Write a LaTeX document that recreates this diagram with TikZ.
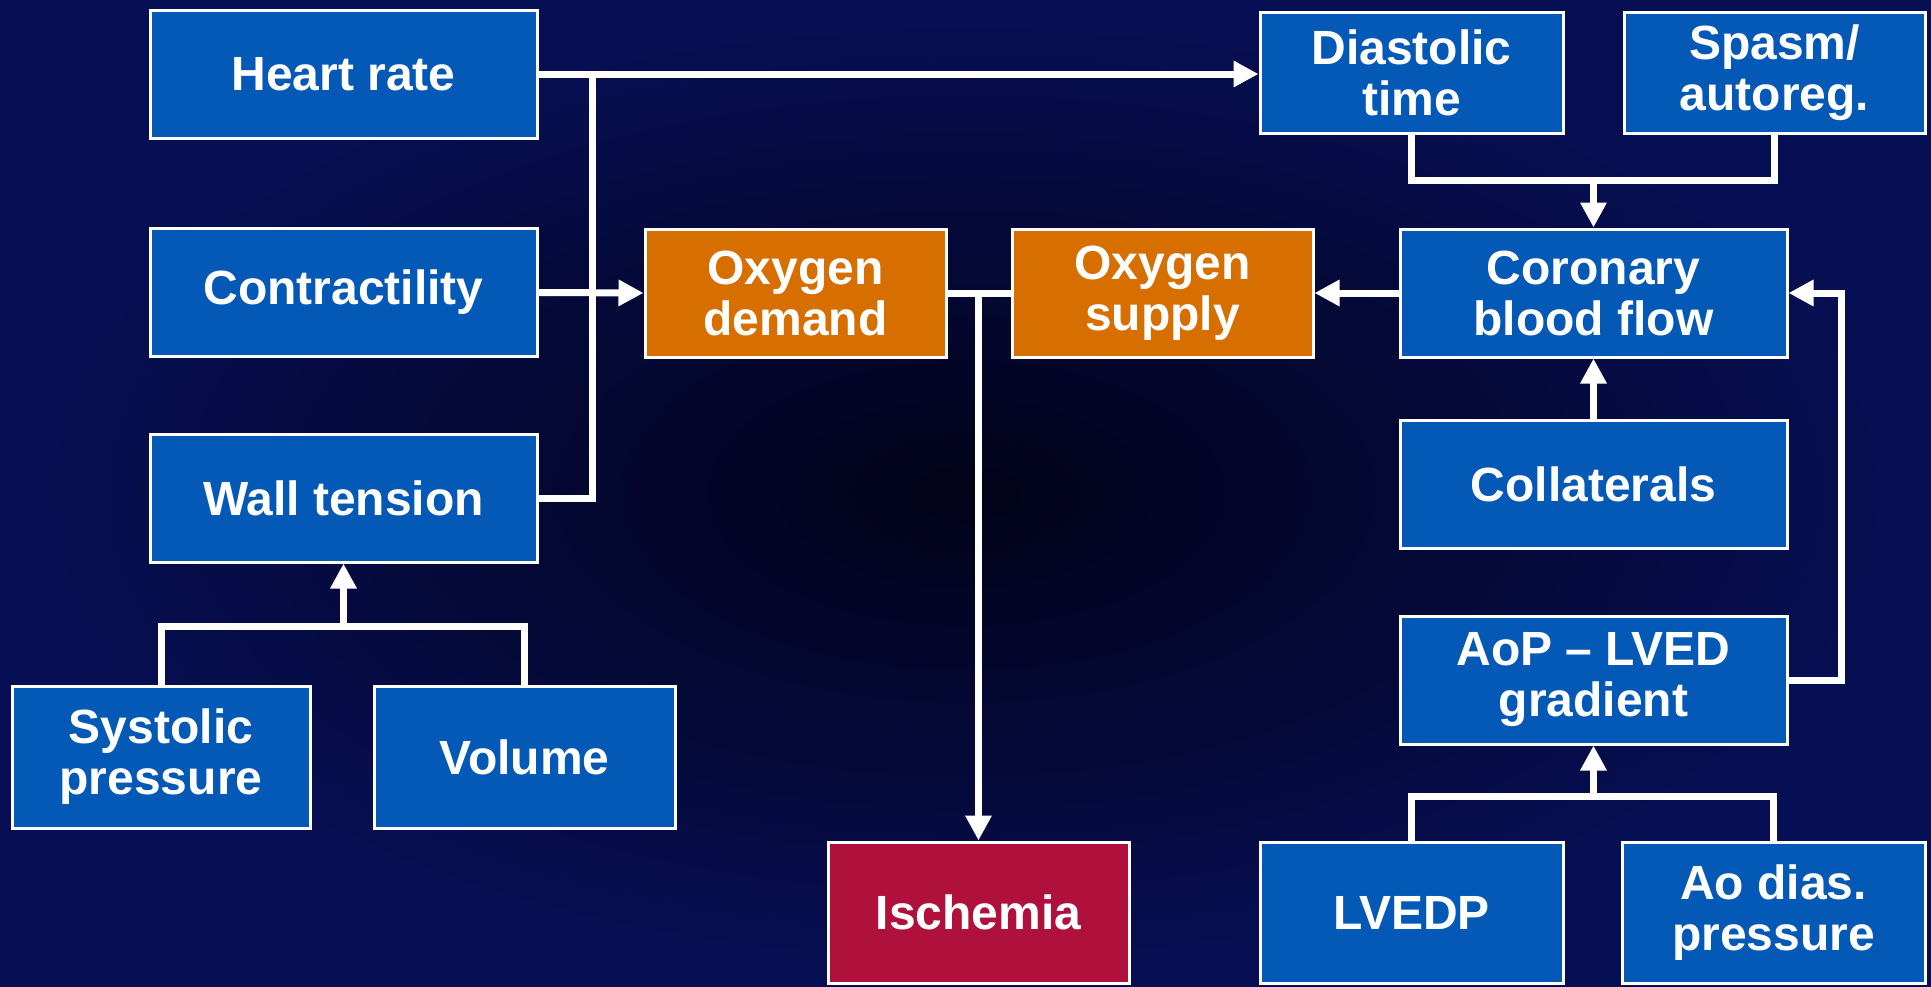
\documentclass[tikz,border=0pt]{standalone}
\usepackage{fontspec}
\setmainfont{Liberation Sans}
\usetikzlibrary{arrows.meta}
\definecolor{boxblue}{RGB}{4,88,182}
\definecolor{boxorange}{RGB}{214,110,0}
\definecolor{boxred}{RGB}{176,16,60}
\definecolor{bgdark}{RGB}{2,2,24}
\definecolor{bgblue}{RGB}{7,15,84}

\tikzset{
  box/.style={draw=white, line width=3pt, fill=boxblue, text=white,
    font=\bfseries\fontsize{48}{51}\selectfont, align=center, inner sep=0pt},
  wide/.style={box, minimum width=387pt, minimum height=128pt},
  narrow/.style={box, minimum width=301pt, minimum height=128pt},
  tall/.style={box, minimum width=301pt, minimum height=141pt},
  link/.style={draw=white, line width=7pt},
  tip/.style={link, -{Triangle[length=25pt,width=25pt]}},
}

\begin{document}
\begin{tikzpicture}[x=1pt,y=-1pt]
  \useasboundingbox (0,0) rectangle (1931,986);
  \shade[inner color=bgdark, outer color=bgblue] (0,0) rectangle (1931,986);

  % left column
  \node[wide] (hr) at (343.5,74) {Heart rate};
  \node[wide] (con) at (343.5,292.5) {Contractility};
  \node[wide] (wall) at (343.5,498) {Wall tension};
  \node[box, minimum width=298pt, minimum height=142pt] (sys) at (161,757) {Systolic\\pressure};
  \node[box, minimum width=301pt, minimum height=142pt] (vol) at (524.5,757) {Volume};

  % middle
  \node[narrow, fill=boxorange] (dem) at (795.5,293) {Oxygen\\demand};
  \node[narrow, fill=boxorange] (sup) at (1162.5,293) {Oxygen\\supply};
  \node[tall, fill=boxred] (isch) at (978.5,912.5) {Ischemia};

  % right column
  \node[box, minimum width=303pt, minimum height=121pt] (dia) at (1411.5,72.5) {Diastolic\\time};
  \node[box, minimum width=301pt, minimum height=121pt] (spa) at (1774.5,72.5) {Spasm/\\autoreg.};
  \node[wide] (cbf) at (1593.5,293) {Coronary\\blood flow};
  \node[wide] (col) at (1593.5,484.5) {Collaterals};
  \node[wide] (aop) at (1593.5,680) {AoP -- LVED\\gradient};
  \node[tall, minimum width=303pt] (lvedp) at (1411.5,912.5) {LVEDP};
  \node[tall, minimum width=303pt] (aod) at (1773.5,912.5) {Ao dias.\\pressure};

  \coordinate (trunk) at (592,0);
  \coordinate (dsjoin) at (1593.5,180);
  \coordinate (lajoin) at (1593.5,796);
  \coordinate (svjoin) at (343.5,626);

  % demand side
  \draw[tip] (hr.east) -- (hr.east -| dia.west);
  \draw[link] (wall.east) -| (trunk |- hr.east);
  \draw[tip] (con.east) -- (dem.west);
  \draw[link] (sys.north) |- (svjoin) -| (vol.north);
  \draw[tip] (svjoin) -- (wall.south);

  % balance
  \draw[link] (dem.east) -- (sup.west);
  \draw[tip] (dem.east -| isch.north) -- (isch.north);

  % supply side
  \draw[link] (dia.south) |- (dsjoin) -| (spa.south);
  \draw[tip] (dsjoin) -- (cbf.north);
  \draw[tip] (cbf.west) -- (sup.east);
  \draw[tip] (col.north) -- (cbf.south);
  \draw[tip] (aop.east) -- ++(53,0) |- (cbf.east);
  \draw[link] (lvedp.north) |- (lajoin) -| (aod.north);
  \draw[tip] (lajoin) -- (aop.south);
\end{tikzpicture}
\end{document}
